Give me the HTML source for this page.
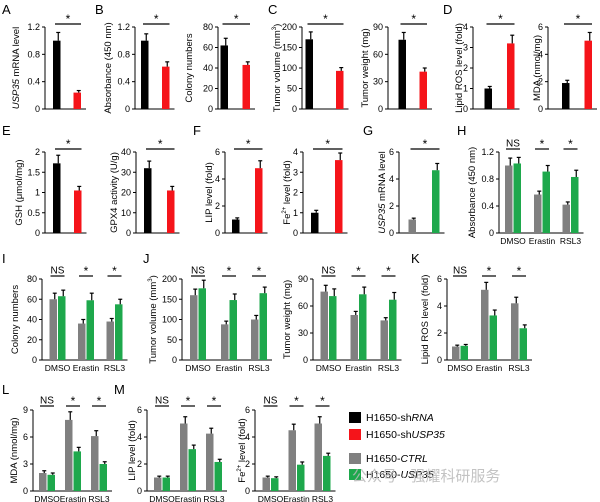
<!DOCTYPE html>
<html><head><meta charset="utf-8"><style>
html,body{margin:0;padding:0;background:#fff;}
svg{display:block;}
text{font-family:"Liberation Sans",Arial,sans-serif;}
</style></head><body>
<svg id="s" width="600" height="502" xmlns="http://www.w3.org/2000/svg"></svg>
<script>
const S=document.getElementById('s');let h='';
const K='#000',R='#f5141a',G='#808080',N='#1ea84c';
function P(o){
 const t=o.top,b=o.bot,ax=o.ax,sc=v=>b-v/o.max*(b-t);
 let right=o.bars[o.bars.length-1][1]+5;
 h+=`<line x1="${ax}" y1="${t}" x2="${ax}" y2="${b}" stroke="#000" stroke-width="1"/>`;
 h+=`<line x1="${ax}" y1="${b}" x2="${right}" y2="${b}" stroke="#000" stroke-width="1"/>`;
 o.ticks.forEach(v=>{const y=sc(v);h+=`<line x1="${ax-3}" y1="${y}" x2="${ax}" y2="${y}" stroke="#000"/>`;
  h+=`<text x="${ax-5}" y="${y+3}" font-size="9" text-anchor="end">${v}</text>`;});
 o.bars.forEach(([x1,x2,v,e,c])=>{const y=sc(v),ye=sc(v+e),cx=(x1+x2)/2;
  h+=`<rect x="${x1}" y="${y}" width="${x2-x1}" height="${b-y}" fill="${c}"/>`;
  h+=`<line x1="${cx+1.5}" y1="${y}" x2="${cx+1.5}" y2="${ye}" stroke="#000" stroke-width="1.2"/><line x1="${cx-0.5}" y1="${ye}" x2="${cx+3.5}" y2="${ye}" stroke="#000" stroke-width="1.2"/>`;});
 (o.sig||[]).forEach(([x1,x2,s,ly])=>{h+=`<line x1="${x1}" y1="${ly}" x2="${x2}" y2="${ly}" stroke="#000" stroke-width="1.2"/>`;
  h+=`<text x="${(x1+x2)/2}" y="${ly-(s=='*'?1:2.5)}" font-size="${s=='*'?12:10}" text-anchor="middle">${s}</text>`;});
 (o.cats||[]).forEach(([cx,s])=>{h+=`<text x="${cx}" y="${b+11}" font-size="8.5" text-anchor="middle">${s}</text>`;});
 const my=(t+b)/2;
 h+=`<text transform="translate(${o.ylx+4},${my}) rotate(-90)" font-size="${o.fs||9.5}" text-anchor="middle">${o.ylab}</text>`;
}
function two(ax,top,bot,max,ticks,ylab,ylx,b1,b2,v1,e1,v2,e2,c1,c2,ly){
 P({ax,top,bot,max,ticks,ylab,ylx,bars:[[b1,b1+7.5,v1,e1,c1],[b2,b2+7.5,v2,e2,c2]],sig:[[b1+2,b2+7.5,'*',ly]]});
}
const it=s=>`<tspan font-style="italic">${s}</tspan>`;
// Row 1
two(45,27,109,1.2,[0,0.4,0.8,1.2],it('USP35')+' mRNA level',15,53,73.5,1,.12,.24,.03,K,R,24);
two(135,27,109,1.2,[0,0.4,0.8,1.2],'Absorbance (450 nm)',107,141,162,1,.1,.62,.07,K,R,24);
two(218,27,109,80,[0,20,40,60,80],'Colony numbers',188,220.5,242.5,62,7,43,3,K,R,24);
two(302,27,109,200,[0,50,100,150,200],'Tumor volume (mm<tspan font-size="6" dy="-4">3</tspan><tspan dy="4">)</tspan>',276,305.5,336,170,18,93,8,K,R,24);
two(388,27,109,90,[0,30,60,90],'Tumor weight (mg)',364,398.5,419.5,76,8,41,4,K,R,24);
two(473,27,109,4,[0,1,2,3,4],'Lipid ROS level (fold)',458,484.5,507,1,.1,3.2,.4,K,R,24);
two(548,27,109,6,[0,2,4,6],'MDA (nmol/mg)',536,562,584.5,1.9,.2,5,.6,K,R,24);
// Row 2
two(45,152,233,2,[0,0.5,1,1.5,2],'GSH (μmol/mg)',18,53,74,1.72,.2,1.05,.1,K,R,149);
two(136,152,233,40,[0,10,20,30,40],'GPX4 activity (U/g)',113,144,167,32,3.5,21,2,K,R,149);
two(225,152,233,6,[0,2,4,6],'LIP level (fold)',208,232,255,1,.12,4.8,.55,K,R,149);
two(303,152,233,4,[0,1,2,3,4],'Fe<tspan font-size="6" dy="-4">2+</tspan><tspan dy="4"> level (fold)</tspan>',286,311,335,1,.12,3.6,.35,K,R,149);
two(399,152,233,6,[0,2,4,6],it('USP35')+' mRNA level',381,408.5,432,1,.1,4.65,.5,G,N,149);
function grp(o,xs,vals,ly,cats){
 const bars=[];xs.forEach((x,i)=>{bars.push([x,x+7.5,vals[i][0],vals[i][1],G]);bars.push([x+8.5,x+16,vals[i][2],vals[i][3],N]);});
 o.bars=bars;o.sig=xs.map((x,i)=>[x+1,x+15,i==0?'NS':'*',ly]);
 o.cats=xs.map((x,i)=>[x+8,cats[i]]);P(o);
}
const C=['DMSO','Erastin','RSL3'];
grp({ax:499,top:152,bot:233,max:1.2,ticks:[0,0.4,0.8,1.2],ylab:'Absorbance (450 nm)',ylx:471},[505,534,562.5],[[1,.11,1.03,.09],[.57,.05,.91,.09],[.42,.04,.83,.1]],149,C);
// Row 3
grp({ax:42,top:279,bot:360,max:80,ticks:[0,20,40,60,80],ylab:'Colony numbers',ylx:14},[49.5,78,106.5],[[60,6,63,6],[36,4,59,7],[38,3,55,5]],276,C);
grp({ax:182,top:279,bot:360,max:200,ticks:[0,50,100,150,200],ylab:'Tumor volume (mm<tspan font-size="6" dy="-4">3</tspan><tspan dy="4">)</tspan>',ylx:152},[190,221,251],[[160,15,177,20],[88,8,148,15],[100,10,165,15]],276,C);
grp({ax:313,top:279,bot:360,max:90,ticks:[0,30,60,90],ylab:'Tumor weight (mg)',ylx:286},[320.5,350.5,380.5],[[76,7,71,8],[50,4,73,8],[44,3,67,8]],276,C);
grp({ax:447,top:279,bot:360,max:6,ticks:[0,2,4,6],ylab:'Lipid ROS level (fold)',ylx:424},[452,481,511],[[1,.1,1.05,.1],[5.2,.55,3.3,.4],[4.2,.45,2.35,.25]],276,C);
// Row 4
grp({ax:33,top:410,bot:491,max:9,ticks:[0,3,6,9],ylab:'MDA (nmol/mg)',ylx:13},[39,65,91],[[2,.25,1.8,.2],[7.9,.9,4.4,.45],[6.1,.6,3,.25]],406,C);
grp({ax:147,top:410,bot:491,max:6,ticks:[0,2,4,6],ylab:'LIP level (fold)',ylx:131},[154,180,206],[[1,.1,1,.1],[5,.5,3.1,.3],[4.25,.4,2.15,.2]],406,C);
grp({ax:255,top:410,bot:491,max:6,ticks:[0,2,4,6],ylab:'Fe<tspan font-size="6" dy="-4">2+</tspan><tspan dy="4"> level (fold)</tspan>',ylx:241},[262.5,288.5,314.5],[[1,.1,.95,.1],[4.5,.45,1.95,.2],[5,.5,2.6,.2]],406,C);
// Panel letters
[['A',2,14],['B',95,14],['C',268,14],['D',443,14],['E',2,135],['F',193,135],['G',363,135],['H',457,135],['I',2,263],['J',143,263],['K',411,263],['L',2,394],['M',114,394]].forEach(([l,x,y])=>{h+=`<text x="${x}" y="${y}" font-size="13">${l}</text>`;});
// Legend
[[K,417,'H1650-sh'+it('RNA')],[R,434,'H1650-sh'+it('USP35')],[G,458,'H1650-'+it('CTRL')],[N,474,'H1650-'+it('USP35')]].forEach(([c,y,s])=>{
 h+=`<rect x="349" y="${y-5}" width="12" height="11" fill="${c}"/><text x="366" y="${y+4}" font-size="10.5">${s}</text>`;});
// Watermark
h+=`<text x="352" y="481" font-size="15" fill="#b8b8b8" fill-opacity="0.85" style='font-family:"Liberation Sans","Noto Sans CJK SC",sans-serif'>公众号 · 强耀科研服务</text>`;
S.innerHTML=h;
</script>
</body></html>
